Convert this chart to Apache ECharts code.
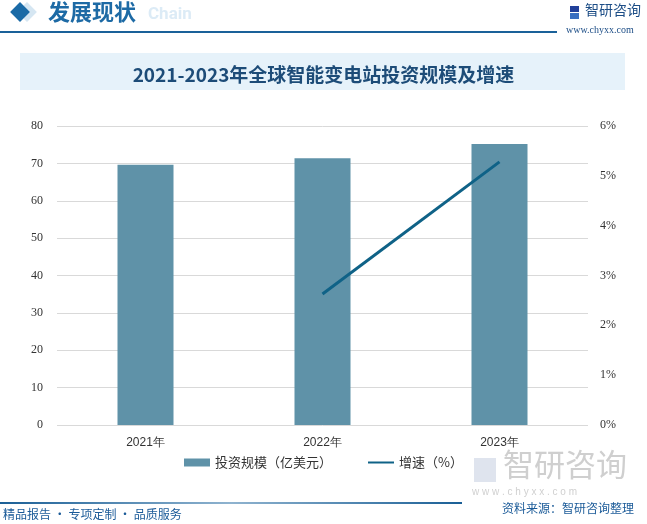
<!DOCTYPE html>
<html><head><meta charset="utf-8">
<script src="https://cdn.jsdelivr.net/npm/echarts@6/dist/echarts.min.js"></script>
<style>html,body{margin:0;padding:0;background:#fff}#c{width:647px;height:524px}</style>
</head><body><div id="c"></div>
<script>
const categories = ['2021年', '2022年', '2023年'];
const investment = [69.6, 71.4, 75.2];
const growth = [null, 2.63, 5.28];
const leftTicks = {min: 0, max: 80, interval: 10};
const rightTicks = {min: 0, max: 6, interval: 1};

const chart = echarts.init(document.getElementById('c'));
chart.setOption({
  backgroundColor: '#fff',
  animation: false,
  title: {
    text: '2021-2023年全球智能变电站投资规模及增速',
    left: 'center', top: 60,
    textStyle: {fontSize: 19, fontWeight: 'bold', color: '#1d4c78', fontFamily: 'Noto Sans CJK SC'}
  },
  graphic: [
    {type: 'rect', z: -1, shape: {x: 20, y: 53, width: 605, height: 37}, style: {fill: '#e6f2fa'}},
    {type: 'rect', shape: {x: 0, y: 31, width: 557, height: 2}, style: {fill: '#1a6199'}},
    {type: 'rect', rotation: Math.PI/4, x: 27, y: 12, shape: {x: -7, y: -7, width: 14, height: 14}, style: {fill: '#d5e6f2'}},
    {type: 'rect', rotation: Math.PI/4, x: 20, y: 12, shape: {x: -7, y: -7, width: 14, height: 14}, style: {fill: '#1a6aa6'}},
    {type: 'text', x: 148, y: 6, style: {text: 'Chain', fontSize: 17, fontWeight: 'bold', fill: '#dcebf6', fontFamily: 'Roboto'}},
    {type: 'text', x: 48, y: 1, style: {text: '发展现状', fontSize: 22, fontWeight: 'bold', fill: '#1d6aa5', fontFamily: 'Noto Sans CJK SC'}},
    {type: 'rect', shape: {x: 570, y: 6, width: 9, height: 6}, style: {fill: '#22409a'}},
    {type: 'rect', shape: {x: 570, y: 13, width: 9, height: 6}, style: {fill: '#3a6fc0'}},
    {type: 'text', x: 585, y: 3, style: {text: '智研咨询', fontSize: 14, fill: '#1c4d86', fontFamily: 'Noto Sans CJK SC'}},
    {type: 'text', x: 566, y: 25, style: {text: 'www.chyxx.com', fontSize: 10, fill: '#1c4d86', fontFamily: 'Liberation Serif'}},
    {type: 'rect', z: -1, shape: {x: 474, y: 458, width: 22, height: 24}, style: {fill: '#dfe4ee'}},
    {type: 'text', z: -1, x: 503, y: 449, style: {text: '智研咨询', fontSize: 31, fill: '#cfcfcf', fontFamily: 'Noto Sans CJK SC'}},
    {type: 'text', z: -1, x: 472, y: 487, style: {text: 'w w w . c h y x x . c o m', fontSize: 10, fill: '#d0d0d0', fontFamily: 'Liberation Sans'}},
    {type: 'rect', shape: {x: 0, y: 502, width: 462, height: 2},
      style: {fill: new echarts.graphic.LinearGradient(0, 0, 1, 0, [
        {offset: 0, color: '#1a5f96'}, {offset: 0.5, color: '#8fb3cf'}, {offset: 1, color: '#1a5f96'}])}},
    {type: 'text', x: 502, y: 502, style: {text: '资料来源：智研咨询整理', fontSize: 12, fill: '#1a5a98', fontFamily: 'Noto Sans CJK SC'}},
    {type: 'text', x: 3, y: 508, style: {text: '精品报告 · 专项定制 · 品质服务', fontSize: 12, fill: '#1a5a98', fontFamily: 'Noto Sans CJK SC'}}
  ],
  legend: {
    bottom: 50, left: 'center', itemGap: 36,
    itemWidth: 26, itemHeight: 8,
    textStyle: {fontSize: 13, color: '#333', fontFamily: 'Noto Sans CJK SC'},
    data: [
      {name: '投资规模（亿美元）', icon: 'rect'},
      {name: '增速（%）', icon: 'path://M0,0L0,0M0,3L26,3L26,5L0,5ZM0,8L0,8'}
    ]
  },
  grid: {left: 57, right: 59, top: 126, bottom: 99},
  xAxis: {
    type: 'category', data: categories,
    axisLine: {show: false}, axisTick: {show: false},
    axisLabel: {fontSize: 12, color: '#333', margin: 12}
  },
  yAxis: [
    {type: 'value', min: leftTicks.min, max: leftTicks.max, interval: leftTicks.interval,
      axisLabel: {fontSize: 12, color: '#333', margin: 14, fontFamily: 'Liberation Serif'},
      axisLine: {show: false}, axisTick: {show: false},
      splitLine: {lineStyle: {color: '#d9d9d9'}}},
    {type: 'value', min: rightTicks.min, max: rightTicks.max, interval: rightTicks.interval,
      axisLabel: {fontSize: 12, color: '#333', margin: 12, formatter: '{value}%', fontFamily: 'Liberation Serif'},
      axisLine: {show: false}, axisTick: {show: false}, splitLine: {show: false}}
  ],
  series: [
    {name: '投资规模（亿美元）', type: 'bar', data: investment, barWidth: 56,
      itemStyle: {color: '#5f92a8'}},
    {name: '增速（%）', type: 'line', yAxisIndex: 1, data: growth,
      showSymbol: false, symbol: 'none', lineStyle: {width: 3, color: '#0f6287'}, itemStyle: {color: '#0f6287'}}
  ]
});
</script></body></html>
